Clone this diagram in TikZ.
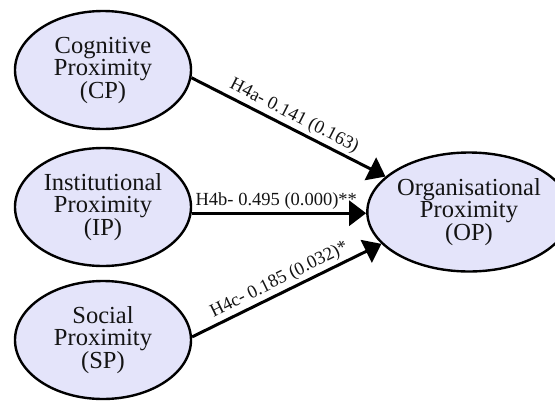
\documentclass[tikz,border=0pt]{standalone}
\usepackage{fontspec}
\setmainfont{Liberation Serif}
\usetikzlibrary{shapes.geometric,arrows.meta}
\definecolor{lav}{RGB}{228,228,250}
\begin{document}
\begin{tikzpicture}[x=1pt,y=-1pt,
  construct/.style={ellipse, draw=black, line width=2.4pt, fill=lav,
    minimum width=176pt, minimum height=118pt, inner sep=0pt, align=center,
    text=black!92, font=\fontsize{24.5}{22.5}\selectfont},
  link/.style={line width=3pt, -{Triangle[length=17pt,width=25pt]}},
  coef/.style={font=\fontsize{18.5}{20}\selectfont, sloped, above, inner sep=2.5pt, text=black!92}]
\useasboundingbox (0,0) rectangle (555,400);

% exogenous constructs
\node[construct] (CP) at (103,70)  {Cognitive\\Proximity\\(CP)};
\node[construct] (IP) at (103,207) {Institutional\\Proximity\\(IP)};
\node[construct] (SP) at (103,340) {Social\\Proximity\\(SP)};

% endogenous construct
\node[construct, minimum width=168pt, minimum height=119pt] (OP) at (469,212)
  {Organisational\\Proximity\\(OP)};

% structural paths with coefficients and p-values
\draw[link] (CP.-5) -- (OP.157) node[coef, pos=0.5] {H4a- 0.141 (0.163)};
\draw[link] (IP.-4) -- (IP.-4 -| OP.west) node[coef, pos=0.485] {H4b- 0.495 (0.000)**};
\draw[link] (SP.2) -- (OP.200) node[coef, pos=0.49] {H4c- 0.185 (0.032)*};
\end{tikzpicture}
\end{document}
